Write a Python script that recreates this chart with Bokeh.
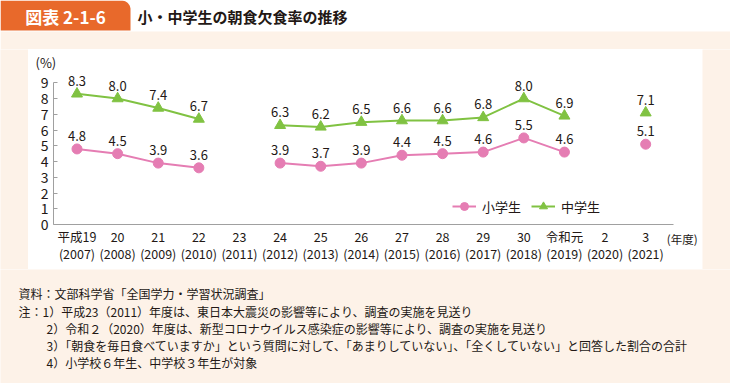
import numpy as np
from bokeh.plotting import figure
from bokeh.models import Range1d, FixedTicker, Legend, LegendItem, ColumnDataSource
from bokeh.layouts import column, row
from bokeh.core.properties import value
from bokeh.embed import file_html
from bokeh.resources import INLINE

# ---------------- data ----------------
year_labels = ["平成19\n(2007)", "20\n(2008)", "21\n(2009)", "22\n(2010)", "23\n(2011)",
               "24\n(2012)", "25\n(2013)", "26\n(2014)", "27\n(2015)", "28\n(2016)",
               "29\n(2017)", "30\n(2018)", "令和元\n(2019)", "2\n(2020)", "3\n(2021)"]
elementary = [4.8, 4.5, 3.9, 3.6, None, 3.9, 3.7, 3.9, 4.4, 4.5, 4.6, 5.5, 4.6, None, 5.1]
junior = [8.3, 8.0, 7.4, 6.7, None, 6.3, 6.2, 6.5, 6.6, 6.6, 6.8, 8.0, 6.9, None, 7.1]
y_ticks = [0, 1, 2, 3, 4, 5, 6, 7, 8, 9]
series_names = ["小学生", "中学生"]
y_unit = "(%)"
x_unit = "(年度)"
title_tag = "図表 2-1-6"
title_text = "小・中学生の朝食欠食率の推移"
notes = [
    "資料：文部科学省「全国学力・学習状況調査」",
    "1）平成23（2011）年度は、東日本大震災の影響等により、調査の実施を見送り",
    "2）令和２（2020）年度は、新型コロナウイルス感染症の影響等により、調査の実施を見送り",
    "3）「朝食を毎日食べていますか」という質問に対して、「あまりしていない」、「全くしていない」と回答した割合の合計",
    "4）小学校６年生、中学校３年生が対象",
]

FONT = "Noto Sans CJK JP"
CREAM = "#FDF2E8"
ORANGE = "#E8692B"
PINK = "#E57DB3"
GREEN = "#80C242"
TXT = "#231815"
AXIS = "#A0A0A0"


def plain_fig(w, h, xr, yr):
    f = figure(width=w, height=h, x_range=xr, y_range=yr, output_backend="svg",
               toolbar_location=None, x_axis_type=None, y_axis_type=None, min_border=0)
    f.outline_line_color = None
    f.border_fill_color = CREAM
    f.background_fill_color = CREAM
    return f


# ---------------- title strip (page px coords) ----------------
t = plain_fig(730, 49, Range1d(0, 730), Range1d(49, 0))
t.background_fill_color = "white"
t.border_fill_color = "white"
t.quad(left=0, right=730, top=31, bottom=49, color=CREAM, line_color=None)
r = 9
a = np.linspace(-np.pi / 2, 0, 16)
tab_x = [0, 0] + list(130 - r + r * np.cos(a)) + [130]
tab_y = [30, 0] + list(r + r * np.sin(a)) + [30]
t.patch(tab_x, tab_y, color=ORANGE, line_color=None)
t.text(x=[65], y=[15.5], text=[title_tag], text_color="white", text_font=value(FONT),
       text_font_style="bold", text_font_size="17px", text_align="center", text_baseline="middle")
t.text(x=[137], y=[16], text=[title_text], text_color=TXT, text_font=value(FONT),
       text_font_style="bold", text_font_size="15px", text_align="left", text_baseline="middle")

# ---------------- main chart ----------------
xs = list(range(len(year_labels)))
p = figure(width=674, height=220, x_range=Range1d(-1.194, 15.399), y_range=Range1d(-2.859, 11.118),
           output_backend="svg", toolbar_location=None, min_border=0)
p.background_fill_color = "white"
p.border_fill_color = "white"
p.outline_line_color = None
p.grid.visible = False

p.xaxis.fixed_location = 0
p.xaxis.bounds = (-0.579, 14.685)
p.xaxis.ticker = FixedTicker(ticks=xs)
p.xaxis.major_label_overrides = {i: lab for i, lab in zip(xs, year_labels)}
p.xaxis.major_tick_line_color = None
p.xaxis.minor_tick_line_color = None
p.xaxis.axis_line_color = AXIS
p.xaxis.major_label_standoff = -3
p.xaxis.major_label_text_font = FONT
p.xaxis.major_label_text_font_size = "12.5px"
p.xaxis.major_label_text_line_height = 0.88
p.xaxis.major_label_text_color = TXT

p.yaxis.fixed_location = -0.579
p.yaxis.ticker = FixedTicker(ticks=y_ticks)
p.yaxis.bounds = (0, 9)
p.yaxis.axis_line_color = AXIS
p.yaxis.major_tick_line_color = AXIS
p.yaxis.major_tick_in = 4
p.yaxis.major_tick_out = 0
p.yaxis.minor_tick_line_color = None
p.yaxis.major_label_standoff = 5
p.yaxis.major_label_text_font = FONT
p.yaxis.major_label_text_font_size = "14px"
p.yaxis.major_label_text_color = TXT


def series(vals, color, marker, size):
    yline = [np.nan if v is None else v for v in vals]
    ln = p.line(xs, yline, line_color=color, line_width=2)
    px = [x for x, v in zip(xs, vals) if v is not None]
    py = [v for v in vals if v is not None]
    src = ColumnDataSource(dict(x=px, y=py, t=[f"{v:.1f}" for v in py]))
    sc = p.scatter("x", "y", source=src, marker=marker, size=size, fill_color=color, line_color=color)
    p.text("x", "y", text="t", source=src, y_offset=-13, text_align="center", text_baseline="middle",
           text_font=value(FONT), text_font_size="13px", text_color=TXT)
    return ln, sc


pl, ps = series(elementary, PINK, "circle", 10)
gl, gs = series(junior, GREEN, "triangle", 11)

legend = Legend(items=[LegendItem(label=series_names[0], renderers=[pl, ps]),
                       LegendItem(label=series_names[1], renderers=[gl, gs])],
                orientation="horizontal", location=(424, 53), glyph_width=24, glyph_height=20,
                label_standoff=6, spacing=10, padding=0, margin=0,
                border_line_alpha=0, background_fill_alpha=0,
                label_text_font=FONT, label_text_font_size="13px", label_text_color=TXT)
p.add_layout(legend)

p.text(x=[-1.022], y=[10.29], text=[y_unit], text_baseline="middle", text_align="left",
       text_font=value(FONT), text_font_size="13px", text_color=TXT)
p.text(x=[14.90], y=[-0.89], text=[x_unit], text_baseline="middle", text_align="center",
       text_font=value(FONT), text_font_size="11.5px", text_color=TXT)

sl = plain_fig(28, 220, Range1d(0, 1), Range1d(0, 1))
sr = plain_fig(28, 220, Range1d(0, 1), Range1d(0, 1))

# ---------------- notes ----------------
n = plain_fig(730, 114, Range1d(0, 730), Range1d(383, 269))
note_x = [18, 42, 46, 46, 46]
note_y = [293, 311, 328, 345, 362]
n.text(x=note_x, y=note_y, text=notes, text_font=value(FONT), text_font_size="12px",
       text_color=TXT, text_align="left", text_baseline="middle")
n.text(x=[18], y=[311], text=["注："], text_font=value(FONT), text_font_size="12px",
       text_color=TXT, text_align="left", text_baseline="middle")

layout = column(t, row(sl, p, sr), n)
open("out.html", "w").write(file_html(layout, INLINE))
